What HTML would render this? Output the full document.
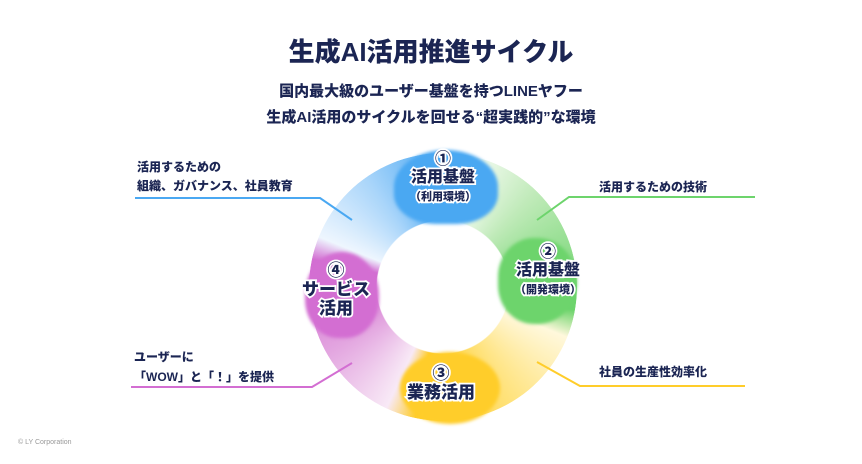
<!DOCTYPE html>
<html><head><meta charset="utf-8"><style>
*{margin:0;padding:0}
body{width:862px;height:464px;background:#fff;position:relative;overflow:hidden;font-family:"Liberation Sans","Noto Sans CJK JP",sans-serif;color:#1b2553}
.ring{position:absolute;left:309px;top:153px;width:268px;height:268px;border-radius:50%;
background:conic-gradient(from 0deg,#4aa8f2 0deg,#4aa8f2 8deg,#f4fbf2 14deg,#bfeab8 45deg,#6dd46c 95deg,#6dd46c 100deg,#fff8dc 112deg,#ffe27a 150deg,#ffcd2a 185deg,#ffcd2a 192deg,#f8e9f6 205deg,#e3a6e0 240deg,#d36ed2 275deg,#d36ed2 282deg,#eef6fe 292deg,#a9d5fa 325deg,#4aa8f2 360deg);
-webkit-mask:radial-gradient(circle,transparent 66px,#000 67px);mask:radial-gradient(circle,transparent 66px,#000 67px)}
.blob{position:absolute;border-radius:50%;filter:blur(1.5px)}
.t{position:absolute;font-weight:900;white-space:nowrap}
.lab{position:absolute;font-weight:900;text-align:center;color:#1b2553;-webkit-text-stroke:3.5px #fff;paint-order:stroke fill;white-space:nowrap;line-height:1.12}
</style></head><body>
<div class="ring"></div>
<div class="blob" style="left:394px;top:150px;width:104px;height:74px;background:#4aa8f2;border-radius:50% 50% 40% 40%"></div>
<div class="blob" style="left:498px;top:238px;width:79px;height:86px;background:#6dd46c;border-radius:45% 50% 50% 45%"></div>
<div class="blob" style="left:400px;top:352px;width:100px;height:72px;background:#ffcd2a;border-radius:50%"></div>
<div class="blob" style="left:305px;top:252px;width:74px;height:86px;background:#d36ed2;border-radius:50% 50% 45% 45%"></div>
<svg width="862" height="464" style="position:absolute;left:0;top:0" fill="none" stroke-width="2">
<polyline points="135,198 320,198 352,220" stroke="#4aa8f2"/>
<polyline points="131,387 312,387 352,363" stroke="#d36ed2"/>
<polyline points="755,197 569,197 537,220" stroke="#6dd46c"/>
<polyline points="745,386 580,386 537,362" stroke="#ffcd2a"/>
</svg>
<div class="t" style="left:0;width:862px;text-align:center;top:32px;font-size:26px">生成AI活用推進サイクル</div>
<div class="t" style="left:0;width:862px;text-align:center;top:80px;font-size:15px">国内最大級のユーザー基盤を持つLINEヤフー</div>
<div class="t" style="left:0;width:862px;text-align:center;top:106px;font-size:15px">生成AI活用のサイクルを回せる“超実践的”な環境</div>
<div class="t" style="left:137px;top:158px;font-size:12px;line-height:19px">活用するための<br>組織、ガバナンス、社員教育</div>
<div class="t" style="left:599px;top:178px;font-size:12px">活用するための技術</div>
<div class="t" style="left:134px;top:347px;font-size:12px;line-height:20px">ユーザーに<br>「WOW」と「！」を提供</div>
<div class="t" style="left:599px;top:363px;font-size:12px">社員の生産性効率化</div>
<div class="lab" style="left:393px;width:100px;top:151px;font-size:16px">①<br>活用基盤<br><span style="font-size:11px">（利用環境）</span></div>
<div class="lab" style="left:496px;width:104px;top:244px;font-size:16px">②<br>活用基盤<br><span style="font-size:11px">（開発環境）</span></div>
<div class="lab" style="left:388px;width:106px;top:364px;font-size:17px">③<br>業務活用</div>
<div class="lab" style="left:290px;width:92px;top:261px;font-size:17px">④<br>サービス<br>活用</div>
<div class="t" style="left:18px;top:439px;font-size:7px;color:#999;font-weight:normal">© LY Corporation</div>
</body></html>
